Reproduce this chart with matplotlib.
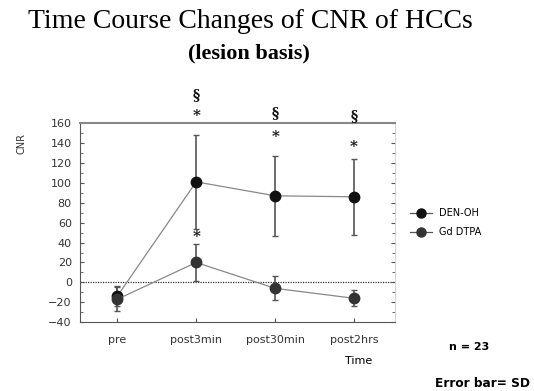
import numpy as np
import matplotlib
matplotlib.use("Agg")
import matplotlib.pyplot as plt
from matplotlib.ticker import MultipleLocator
from matplotlib.lines import Line2D

# data
time_points = ["pre", "post3min", "post30min", "post2hrs"]
den_oh_mean = [-14, 101, 87, 86]
den_oh_sd = [10, 47, 40, 38]
gd_dtpa_mean = [-17, 20, -6, -16]
gd_dtpa_sd = [12, 19, 12, 8]

# significance marks (x index, y value, symbol)
sig_marks_x = [1, 1, 2, 2, 3, 3, 1]
sig_marks_y = [188, 167, 170, 146, 167, 136, 46]
sig_marks_txt = ["§", "*", "§", "*", "§", "*", "*"]

fig = plt.figure(figsize=(5.34, 3.91), dpi=100)
ax = fig.add_axes([0.150, 0.176, 0.590, 0.509])

x = np.arange(len(time_points))
ax.errorbar(x, den_oh_mean, yerr=den_oh_sd, color="#888888", ecolor="#555555",
            elinewidth=1.2, capsize=2.5, capthick=1, lw=0.9, marker="o", ms=7.5,
            mfc="#111111", mec="#111111", zorder=3)
ax.errorbar(x, gd_dtpa_mean, yerr=gd_dtpa_sd, color="#888888", ecolor="#555555",
            elinewidth=1.2, capsize=2.5, capthick=1, lw=0.9, marker="o", ms=7.5,
            mfc="#333333", mec="#333333", zorder=3)

ax.axhline(0, color="#333333", lw=0.9, ls=(0, (1, 1)), zorder=1)

ax.set_xlim(-0.47, 3.52)
ax.set_ylim(-40, 160)
ax.set_xticks(x)
ax.set_xticklabels(time_points, fontsize=8, color="#333333")
ax.yaxis.set_major_locator(MultipleLocator(20))
ax.yaxis.set_minor_locator(MultipleLocator(10))
ax.tick_params(axis="y", labelsize=8, labelcolor="#333333", direction="in",
               length=3, color="#555555", right=True, which="both", pad=6)
ax.tick_params(axis="y", which="minor", length=2)
ax.tick_params(axis="x", length=3, color="#555555", direction="in", pad=9)

ax.spines["top"].set_color("#888888")
ax.spines["top"].set_linewidth(1.5)
ax.spines["right"].set_color("#cccccc")
ax.spines["right"].set_linewidth(0.6)
ax.spines["left"].set_color("#555555")
ax.spines["bottom"].set_color("#555555")

ax.set_ylabel("CNR", fontsize=7, color="#333333")
ax.yaxis.set_label_coords(-0.17, 0.9)

for xi, yi, t in zip(sig_marks_x, sig_marks_y, sig_marks_txt):
    ax.text(xi, yi, t, ha="center", va="center", fontsize=10 if t == "§" else 11,
            fontweight="bold", family="DejaVu Serif", color="#111111",
            clip_on=False)

handles = [
    Line2D([], [], color="#555555", lw=0.9, marker="o", ms=6.5,
           mfc="#111111", mec="#111111"),
    Line2D([], [], color="#555555", lw=0.9, marker="o", ms=6.5,
           mfc="#333333", mec="#333333"),
]
ax.legend(handles, ["DEN-OH", "Gd DTPA"], loc="center left",
          bbox_to_anchor=(1.02, 0.5), frameon=False, fontsize=7,
          handlelength=2.2, labelspacing=0.9, handletextpad=0.8)

fig.text(0.468, 0.945, "Time Course Changes of CNR of HCCs", ha="center",
         va="center", fontsize=20, family="Liberation Serif")
fig.text(0.466, 0.862, "(lesion basis)", ha="center", va="center",
         fontsize=16, fontweight="bold", family="Liberation Serif")

fig.text(0.671, 0.077, "Time", ha="center", va="center", fontsize=8)
fig.text(0.878, 0.113, "n = 23", ha="center", va="center", fontsize=8,
         fontweight="bold")
fig.text(0.904, 0.02, "Error bar= SD", ha="center", va="center", fontsize=8.7,
         fontweight="bold")

fig.savefig("out.png", dpi=100)
